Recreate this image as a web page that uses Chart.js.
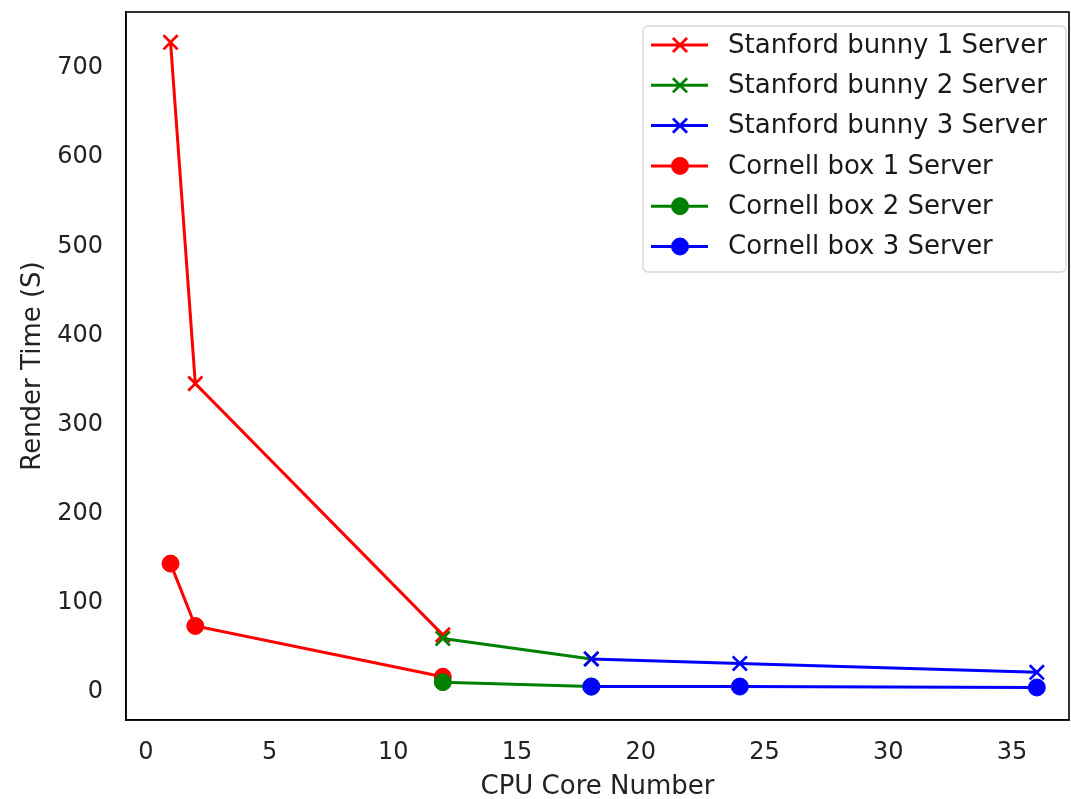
<!DOCTYPE html>
<html>
<head>
<meta charset="utf-8">
<script src="https://cdn.jsdelivr.net/npm/chart.js@4.4.0/dist/chart.umd.min.js"></script>
<style>
  html, body { margin: 0; padding: 0; background: #fff; }
  #wrap { width: 1071px; height: 799px; }
</style>
</head>
<body>
<div id="wrap"><canvas id="renderChart" width="1071" height="799"></canvas></div>
<script>
// values
const bunny1Cores = [1, 2, 12];
const bunny1Time  = [729, 346, 64];
const bunny2Cores = [12, 18];
const bunny2Time  = [60, 37];
const bunny3Cores = [18, 24, 36];
const bunny3Time  = [37, 32, 22];
const cornell1Cores = [1, 2, 12];
const cornell1Time  = [144, 74, 17];
const cornell2Cores = [12, 18];
const cornell2Time  = [11, 6];
const cornell3Cores = [18, 24, 36];
const cornell3Time  = [6, 6, 5];

const seriesLabels = [
  'Stanford bunny 1 Server', 'Stanford bunny 2 Server', 'Stanford bunny 3 Server',
  'Cornell box 1 Server', 'Cornell box 2 Server', 'Cornell box 3 Server'
];
const xTicks = [0, 5, 10, 15, 20, 25, 30, 35];
const yTicks = [0, 100, 200, 300, 400, 500, 600, 700];

const RED = '#ff0000', GREEN = '#008000', BLUE = '#0000ff';
const FONT = 'DejaVu Sans';

function pts(xs, ys) {
  return xs.map((x, i) => ({ x: x, y: ys[i] }));
}

function series(idx, xs, ys, color, cross) {
  return {
    label: seriesLabels[idx],
    data: pts(xs, ys),
    borderColor: color,
    backgroundColor: color,
    borderWidth: 3,
    pointStyle: cross ? 'crossRot' : 'circle',
    pointRadius: cross ? 10 : 8.5,
    pointBorderWidth: cross ? 2.7 : 1,
    pointBorderColor: color,
    pointBackgroundColor: color,
    showLine: true,
    fill: false,
    tension: 0,
    order: 5 - idx   // later series on top, like matplotlib
  };
}

const datasets = [
  series(0, bunny1Cores, bunny1Time, RED, true),
  series(1, bunny2Cores, bunny2Time, GREEN, true),
  series(2, bunny3Cores, bunny3Time, BLUE, true),
  series(3, cornell1Cores, cornell1Time, RED, false),
  series(4, cornell2Cores, cornell2Time, GREEN, false),
  series(5, cornell3Cores, cornell3Time, BLUE, false)
];

// box round the plot + legend inside the axes
const frameAndLegend = {
  id: 'frameAndLegend',
  afterDatasetsDraw(chart) {
    const { ctx, chartArea: a } = chart;
    ctx.save();
    ctx.strokeStyle = '#000';
    ctx.lineWidth = 1.6;
    ctx.strokeRect(a.left, a.top, a.right - a.left, a.bottom - a.top);

    // legend box
    const bx = 643, by = 26, bw = 423, bh = 246, r = 5;
    ctx.beginPath();
    ctx.moveTo(bx + r, by);
    ctx.arcTo(bx + bw, by, bx + bw, by + bh, r);
    ctx.arcTo(bx + bw, by + bh, bx, by + bh, r);
    ctx.arcTo(bx, by + bh, bx, by, r);
    ctx.arcTo(bx, by, bx + bw, by, r);
    ctx.closePath();
    ctx.fillStyle = 'rgba(255,255,255,0.8)';
    ctx.fill();
    ctx.strokeStyle = '#d6d6d6';
    ctx.lineWidth = 1.3;
    ctx.stroke();

    ctx.font = '26px "' + FONT + '"';
    ctx.textBaseline = 'middle';
    ctx.textAlign = 'left';
    chart.data.datasets.forEach((ds, i) => {
      const y = 45 + i * 40.3;
      ctx.strokeStyle = ds.borderColor;
      ctx.lineWidth = ds.borderWidth;
      ctx.beginPath();
      ctx.moveTo(651, y);
      ctx.lineTo(708, y);
      ctx.stroke();
      ctx.fillStyle = ds.backgroundColor;
      ctx.lineWidth = ds.pointBorderWidth;
      Chart.helpers.drawPoint(ctx, {
        pointStyle: ds.pointStyle,
        radius: ds.pointRadius,
        borderWidth: ds.pointBorderWidth,
        rotation: 0
      }, 680, y);
      ctx.fillStyle = '#1a1a1a';
      ctx.fillText(ds.label, 728, y + 1);
    });
    ctx.restore();
  }
};

new Chart(document.getElementById('renderChart').getContext('2d'), {
  type: 'line',
  data: { datasets: datasets },
  options: {
    responsive: false,
    animation: false,
    maintainAspectRatio: false,
    layout: { autoPadding: false, padding: { top: 12, right: 2, left: 0, bottom: 0 } },
    plugins: {
      legend: { display: false },
      tooltip: { enabled: false }
    },
    scales: {
      x: {
        type: 'linear',
        min: -0.8,
        max: 37.3,
        afterFit: s => { s.height = 79; s.paddingLeft = 0; s.paddingRight = 0; },
        afterBuildTicks: s => { s.ticks = xTicks.map(v => ({ value: v })); },
        grid: { display: false, drawTicks: true, tickLength: 8, tickColor: '#000', tickWidth: 1.4 },
        border: { display: true, color: '#000', width: 1.6 },
        ticks: { color: '#222', font: { family: FONT, size: 24 }, padding: 10, maxRotation: 0 },
        title: {
          display: true, text: 'CPU Core Number', color: '#222',
          font: { family: FONT, size: 26, lineHeight: 0.9 }, padding: { top: 0, bottom: 0 }
        }
      },
      y: {
        type: 'linear',
        min: -31.5,
        max: 763,
        afterFit: s => { s.width = 126; s.paddingTop = 0; s.paddingBottom = 0; },
        afterBuildTicks: s => { s.ticks = yTicks.map(v => ({ value: v })); },
        grid: { display: false, drawTicks: true, tickLength: 8, tickColor: '#000', tickWidth: 1.4 },
        border: { display: true, color: '#000', width: 1.6 },
        ticks: { color: '#222', font: { family: FONT, size: 24 }, padding: 15 },
        title: {
          display: true, text: 'Render Time (S)', color: '#222',
          font: { family: FONT, size: 26, lineHeight: 1 }, padding: { top: 20, bottom: 0 }
        }
      }
    }
  },
  plugins: [frameAndLegend]
});
</script>
</body>
</html>
